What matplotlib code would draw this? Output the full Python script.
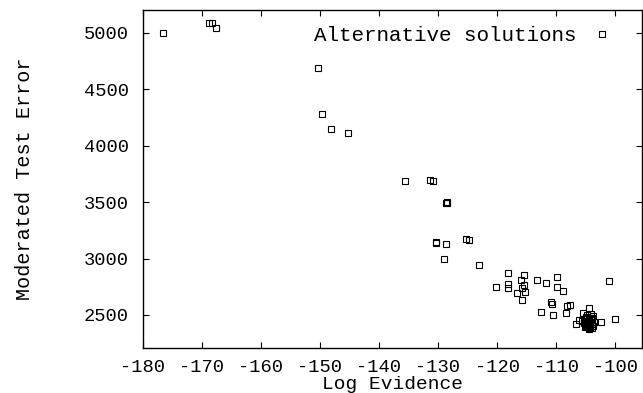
import matplotlib
matplotlib.use('Agg')
import matplotlib.pyplot as plt

plt.rcParams['font.family'] = ['Liberation Mono', 'DejaVu Sans Mono']
plt.rcParams['axes.unicode_minus'] = False

# log evidence / moderated test error
log_evidence = [
    -176.6, -168.7, -168.3, -167.6,
    -150.3, -149.7, -148.2, -145.3,
    -135.6, -131.3, -130.9,
    -128.6, -128.4, -128.5,
    -130.4, -130.3, -128.7, -125.3, -124.8, -128.9, -123.1,
    -118.1, -115.5, -113.3, -116.0, -120.1, -118.1, -118.1,
    -115.4, -115.7, -115.2, -116.7, -115.7,
    -111.7, -109.9, -109.8, -108.9, -110.8, -110.7, -108.1, -107.6,
    -108.3, -112.5, -110.6, -104.5, -101.0, -100.1, -102.4, -106.6, -106.2,
    # dense cluster near the best evidence
    -105.5, -103.8, -105.0, -104.5, -104.0, -104.8, -104.2, -105.2, -104.6,
    -103.9, -104.9, -104.3, -104.6, -104.0, -105.3, -103.6, -104.4, -104.7,
    -104.1, -105.6, -104.5, -103.7, -105.1, -104.8, -104.3, -104.1, -104.9,
    -104.5, -104.2, -104.7, -104.4, -103.9, -105.0, -104.6, -104.3,
]
test_error = [
    5000, 5085, 5085, 5040,
    4690, 4280, 4150, 4115,
    3690, 3700, 3690,
    3495, 3500, 3490,
    3150, 3135, 3130, 3175, 3165, 2995, 2945,
    2870, 2855, 2810, 2810, 2750, 2775, 2740,
    2765, 2740, 2705, 2695, 2635,
    2785, 2835, 2745, 2710, 2615, 2595, 2580, 2590,
    2520, 2525, 2500, 2560, 2800, 2465, 2440, 2420, 2455,
    2515, 2490, 2480, 2470, 2460, 2450, 2440, 2430, 2425,
    2420, 2410, 2400, 2390, 2385, 2460, 2440, 2455, 2500,
    2510, 2445, 2375, 2400, 2395, 2470, 2430, 2455, 2405,
    2415, 2395, 2435, 2445, 2470, 2420, 2410, 2385,
]

x_ticks = [-180, -170, -160, -150, -140, -130, -120, -110, -100]
y_ticks = [2500, 3000, 3500, 4000, 4500, 5000]

fig = plt.figure(figsize=(6.43, 3.93), dpi=100)
ax = fig.add_axes([0.222, 0.114, 0.776, 0.861])

ax.plot(log_evidence, test_error, 's', ms=4.5, mfc='none', mec='black',
        mew=0.8, label='Alternative solutions')

ax.set_xlim(-180, -95.5)
ax.set_ylim(2205, 5205)
ax.set_xticks(x_ticks)
ax.set_yticks(y_ticks)
ax.tick_params(direction='in', top=True, right=True, length=4, width=0.8,
               labelsize=13.5, colors='black')
ax.tick_params(axis='y', pad=10)
ax.tick_params(axis='x', pad=8)
for s in ax.spines.values():
    s.set_linewidth(1.0)

ax.set_xlabel('Log Evidence', fontsize=14, labelpad=0)
ax.set_ylabel('Moderated Test Error', fontsize=14.5, labelpad=36)

ax.legend(loc='upper right', bbox_to_anchor=(0.957, 0.977), frameon=False,
          markerfirst=False, fontsize=15, handlelength=1.0,
          handletextpad=0.7, borderaxespad=0)

fig.savefig('out.png', dpi=100)
